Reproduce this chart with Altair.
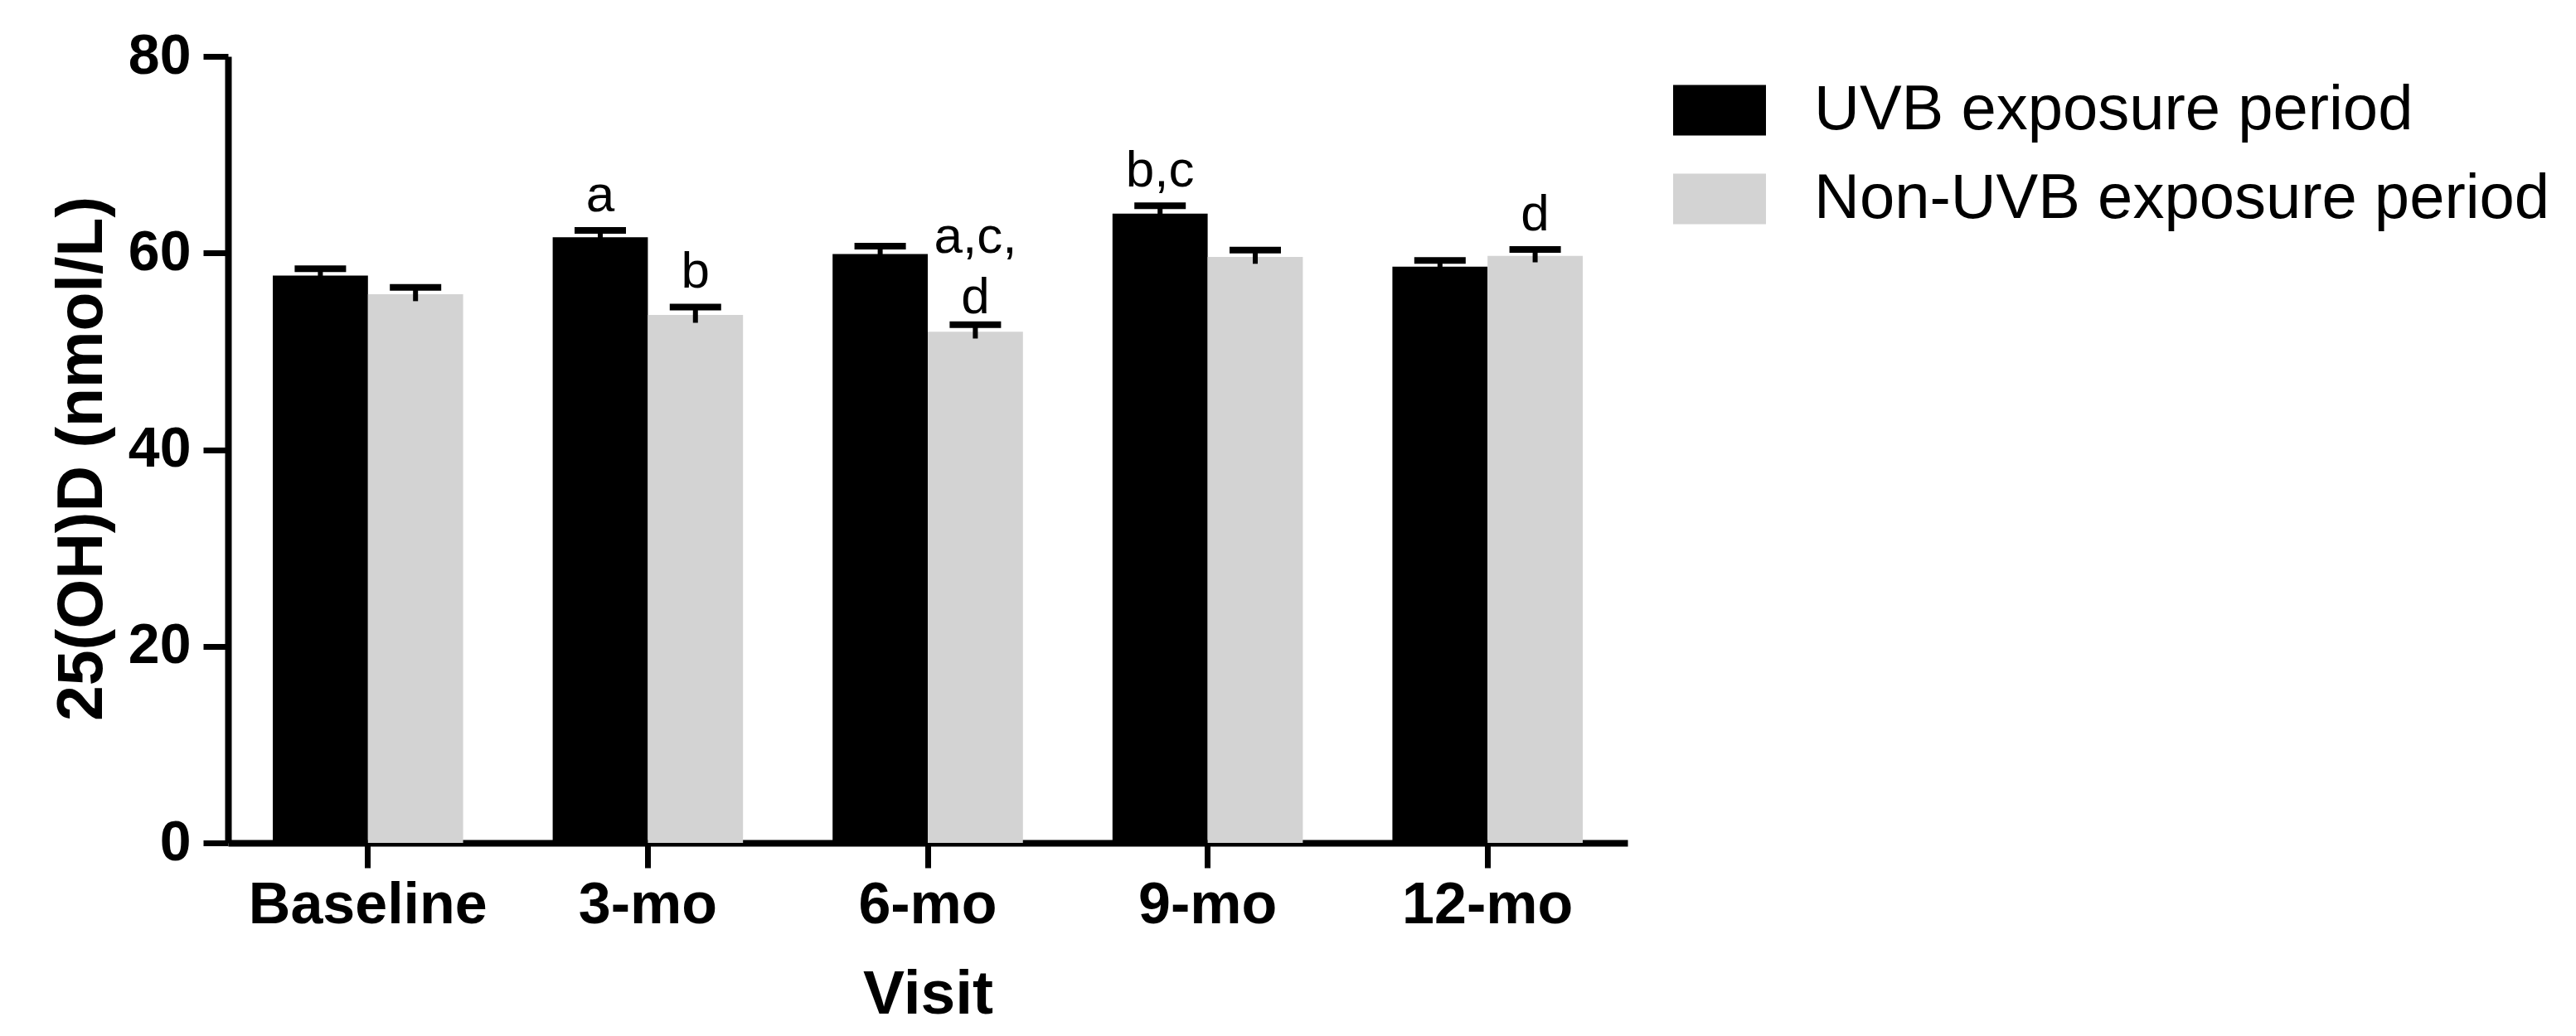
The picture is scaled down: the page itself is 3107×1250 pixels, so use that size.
import altair as alt
import pandas as pd

# ---- data ----
visits = ["Baseline", "3-mo", "6-mo", "9-mo", "12-mo"]
periods = ["UVB exposure period", "Non-UVB exposure period"]
uvb_mean = [57.7, 61.6, 59.9, 64.0, 58.6]
uvb_sem = [0.7, 0.7, 0.8, 0.8, 0.65]
non_mean = [55.8, 53.7, 52.0, 59.6, 59.7]
non_sem = [0.7, 0.8, 0.7, 0.7, 0.65]

ann_visit = ["3-mo", "3-mo", "6-mo", "6-mo", "9-mo", "12-mo"]
ann_period = [periods[0], periods[1], periods[1], periods[1], periods[0], periods[1]]
ann_text = ["a", "b", "d", "a,c,", "b,c", "d"]
ann_role = ["single", "single", "stack_bottom", "stack_top", "single", "single"]

colors = ["#000000", "#d3d3d3"]

rows = []
for v, m, s in zip(visits, uvb_mean, uvb_sem):
    rows.append({"visit": v, "period": periods[0], "mean": m, "sem": s})
for v, m, s in zip(visits, non_mean, non_sem):
    rows.append({"visit": v, "period": periods[1], "mean": m, "sem": s})
df = pd.DataFrame(rows)
df["lo"] = df["mean"] - df["sem"]
df["hi"] = df["mean"] + df["sem"]

ann = pd.DataFrame({"visit": ann_visit, "period": ann_period, "text": ann_text, "role": ann_role})
ann = ann.merge(df[["visit", "period", "hi"]], on=["visit", "period"], how="left")

FONT = "Liberation Sans"

x_enc = alt.X(
    "visit:N",
    sort=visits,
    scale=alt.Scale(paddingInner=0.32, paddingOuter=0.16),
    axis=alt.Axis(
        title="Visit",
        labelAngle=0,
        labelFont=FONT,
        labelFontSize=70,
        labelFontWeight="bold",
        labelColor="black",
        labelPadding=11,
        labelLimit=1000,
        tickSize=30,
        tickWidth=7,
        tickColor="black",
        domainColor="black",
        domainWidth=8,
        titleFont=FONT,
        titleFontSize=75,
        titleFontWeight="bold",
        titleColor="black",
        titlePadding=36,
        grid=False,
    ),
)
xo_enc = alt.XOffset("period:N", sort=periods, scale=alt.Scale(domain=periods))
y_scale = alt.Scale(domain=[0, 80], nice=False)

y_axis = alt.Axis(
    title="25(OH)D (nmol/L)",
    values=[0, 20, 40, 60, 80],
    labelFont=FONT,
    labelFontSize=68,
    labelFontWeight="bold",
    labelColor="black",
    labelPadding=15,
    tickSize=30,
    tickWidth=7,
    tickColor="black",
    domainColor="black",
    domainWidth=8,
    titleFont=FONT,
    titleFontSize=77,
    titleFontWeight="bold",
    titleColor="black",
    titleX=-137,
    titleY=485,
    grid=False,
)

color_enc = alt.Color(
    "period:N",
    sort=periods,
    scale=alt.Scale(domain=periods, range=colors),
    legend=alt.Legend(
        orient="none",
        legendX=1743,
        legendY=9,
        title=None,
        padding=0,
        symbolType="M-1,-0.545L1,-0.545L1,0.545L-1,0.545Z",
        symbolSize=12544,
        symbolStrokeWidth=0,
        symbolOpacity=1,
        labelFont=FONT,
        labelFontSize=76,
        labelColor="black",
        labelOffset=58,
        labelLimit=1500,
        rowPadding=13,
    ),
)

base = alt.Chart(df)

bars = base.mark_bar().encode(
    x=x_enc,
    xOffset=xo_enc,
    y=alt.Y("mean:Q", scale=y_scale, axis=y_axis),
    color=color_enc,
)

stems = base.mark_rule(color="black", strokeWidth=6).encode(
    x=alt.X("visit:N", sort=visits),
    xOffset=xo_enc,
    y=alt.Y("lo:Q", scale=y_scale),
    y2="hi:Q",
)

caps = base.mark_tick(color="black", size=62, thickness=8, opacity=1).encode(
    x=alt.X("visit:N", sort=visits),
    xOffset=xo_enc,
    y=alt.Y("hi:Q", scale=y_scale),
)

def ann_layer(role, dy):
    return (
        alt.Chart(ann)
        .transform_filter(alt.datum.role == role)
        .mark_text(font=FONT, fontSize=62, color="black", baseline="alphabetic", align="center", dy=dy)
        .encode(
            x=alt.X("visit:N", sort=visits),
            xOffset=xo_enc,
            y=alt.Y("hi:Q", scale=y_scale),
            text="text:N",
        )
    )

chart = (
    alt.layer(
        bars,
        stems,
        caps,
        ann_layer("single", -23),
        ann_layer("stack_bottom", -14),
        ann_layer("stack_top", -87),
    )
    .properties(
        width=1688,
        height=949,
        padding={"left": 267, "top": 60, "right": 1136, "bottom": 225},
        autosize=alt.AutoSizeParams(type="none"),
        background="white",
    )
    .configure_view(strokeWidth=0)
)

chart.save("out.html", embed_options={"renderer": "svg", "actions": False})
